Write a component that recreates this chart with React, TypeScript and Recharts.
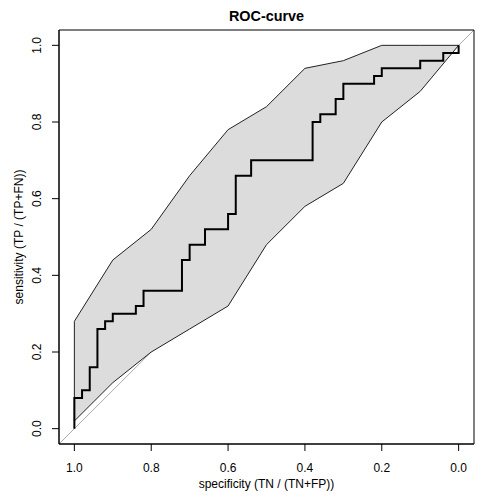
import React from "react";
import {
  ComposedChart,
  Area,
  Line,
  XAxis,
  YAxis,
  ReferenceLine,
  ReferenceArea,
  Label,
} from "recharts";

// ROC curve (specificity, sensitivity) corner points
const rocSpecificity = [
  1, 1, 0.98, 0.98, 0.96, 0.96, 0.94, 0.94, 0.92, 0.92, 0.9, 0.9, 0.84, 0.84,
  0.82, 0.82, 0.72, 0.72, 0.7, 0.7, 0.66, 0.66, 0.6, 0.6, 0.58, 0.58, 0.54,
  0.54, 0.38, 0.38, 0.36, 0.36, 0.32, 0.32, 0.3, 0.3, 0.22, 0.22, 0.2, 0.2,
  0.1, 0.1, 0.04, 0.04, 0, 0,
];
const rocSensitivity = [
  0, 0.08, 0.08, 0.1, 0.1, 0.16, 0.16, 0.26, 0.26, 0.28, 0.28, 0.3, 0.3, 0.32,
  0.32, 0.36, 0.36, 0.44, 0.44, 0.48, 0.48, 0.52, 0.52, 0.56, 0.56, 0.66,
  0.66, 0.7, 0.7, 0.8, 0.8, 0.82, 0.82, 0.86, 0.86, 0.9, 0.9, 0.92, 0.92,
  0.94, 0.94, 0.96, 0.96, 0.98, 0.98, 1,
];

// Confidence band of sensitivity at fixed specificities
const bandSpecificity = [1, 0.9, 0.8, 0.7, 0.6, 0.5, 0.4, 0.3, 0.2, 0.1, 0];
const bandLower = [0.02, 0.12, 0.2, 0.26, 0.32, 0.48, 0.58, 0.64, 0.8, 0.88, 1];
const bandUpper = [0.28, 0.44, 0.52, 0.66, 0.78, 0.84, 0.94, 0.96, 1, 1, 1];

const axisTicks = [0, 0.2, 0.4, 0.6, 0.8, 1];
const axisDomain = [-0.04, 1.04];

const title = "ROC-curve";
const xTitle = "specificity (TN / (TN+FP))";
const yTitle = "sensitivity (TP / (TP+FN))";

const FONT = "'Liberation Sans', Arial, Helvetica, sans-serif";

const rocRows = rocSpecificity.map((s, i) => ({ spec: s, sens: rocSensitivity[i] }));
const bandRows = bandSpecificity.map((s, i) => ({
  spec: s,
  band: [bandLower[i], bandUpper[i]],
}));
// identity (chance) line across the full plotting region
const diagRows = [
  { spec: axisDomain[1], diag: axisDomain[0] },
  { spec: axisDomain[0], diag: axisDomain[1] },
];

const fmt = (v: number) => v.toFixed(1);

const YTick = (props: any) => {
  const { x, y, payload } = props;
  return (
    <text
      transform={`translate(${x},${y}) rotate(-90)`}
      textAnchor="middle"
      fontSize={12}
      fontFamily={FONT}
      fill="#000"
    >
      {fmt(payload.value)}
    </text>
  );
};

const XTitle = (props: any) => {
  const vb = props.viewBox;
  return (
    <text
      x={vb.x + vb.width / 2}
      y={vb.y + 44}
      textAnchor="middle"
      fontSize={12}
      fontFamily={FONT}
      fill="#000"
    >
      {xTitle}
    </text>
  );
};

const YTitle = (props: any) => {
  const vb = props.viewBox;
  const cx = vb.x + vb.width - 36.5;
  const cy = vb.y + vb.height / 2;
  return (
    <text
      transform={`translate(${cx},${cy}) rotate(-90)`}
      textAnchor="middle"
      fontSize={12}
      fontFamily={FONT}
      fill="#000"
    >
      {yTitle}
    </text>
  );
};

export default function App() {
  const anyProps: any = {};
  return (
    <div style={{ position: "absolute", left: 0, top: 0, width: 504, height: 504, background: "#fff" }}>
      <div
        style={{
          position: "absolute",
          left: 59,
          top: 8.5,
          width: 415,
          textAlign: "center",
          fontFamily: FONT,
          fontWeight: "bold",
          fontSize: 14.4,
          lineHeight: "14.4px",
          color: "#000",
        }}
      >
        {title}
      </div>
      <ComposedChart
        width={504}
        height={504}
        data={bandRows}
        margin={{ top: 30, right: 30, bottom: 0, left: 0 }}
        style={{ fontFamily: FONT }}
      >
        <XAxis
          type="number"
          dataKey="spec"
          domain={axisDomain}
          ticks={axisTicks}
          reversed
          allowDataOverflow
          height={60}
          tickSize={7}
          tickMargin={12}
          tickFormatter={fmt}
          stroke="#000"
          tick={{ fill: "#000", fontSize: 12, fontFamily: FONT }}
          tickLine={{ stroke: "#000" }}
          axisLine={{ stroke: "#000" }}
          interval={0}
        >
          <Label content={<XTitle />} />
        </XAxis>
        <YAxis
          type="number"
          domain={axisDomain}
          ticks={axisTicks}
          allowDataOverflow
          width={59}
          tickSize={7}
          tickMargin={10.7}
          tick={<YTick />}
          stroke="#000"
          tickLine={{ stroke: "#000" }}
          axisLine={{ stroke: "#000" }}
          interval={0}
        >
          <Label content={<YTitle />} />
        </YAxis>
        <Line
          data={diagRows}
          type="linear"
          dataKey="diag"
          stroke="#A9A9A9"
          strokeWidth={1}
          dot={false}
          activeDot={false}
          isAnimationActive={false}
          {...{ zIndex: 50 }}
        />
        <Area
          type="linear"
          dataKey="band"
          fill="#DCDCDC"
          fillOpacity={1}
          stroke="#222"
          strokeWidth={1}
          dot={false}
          activeDot={false}
          isAnimationActive={false}
          {...{ zIndex: 100 }}
        />
        <ReferenceLine
          segment={[
            { x: bandSpecificity[0], y: bandLower[0] },
            { x: bandSpecificity[0], y: bandUpper[0] },
          ]}
          stroke="#222"
          strokeWidth={1}
          ifOverflow="visible"
        />
        <Line
          data={rocRows}
          type="linear"
          dataKey="sens"
          stroke="#000"
          strokeWidth={2}
          dot={false}
          activeDot={false}
          isAnimationActive={false}
          {...{ zIndex: 450 }}
        />
        <ReferenceArea
          x1={axisDomain[0]}
          x2={axisDomain[1]}
          y1={axisDomain[0]}
          y2={axisDomain[1]}
          fill="none"
          fillOpacity={0}
          stroke="#000"
          strokeWidth={1}
          ifOverflow="visible"
        />
      </ComposedChart>
    </div>
  );
}
